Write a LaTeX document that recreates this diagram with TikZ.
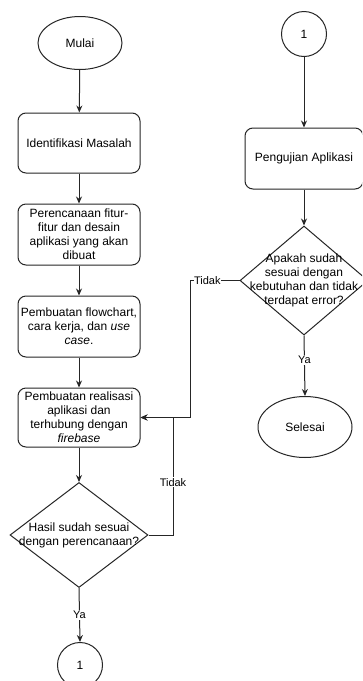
\documentclass[tikz,border=0pt]{standalone}
\usepackage{fontspec}
\setmainfont{Liberation Sans}
\usetikzlibrary{shapes.geometric,arrows.meta}

\begin{document}
\begin{tikzpicture}[x=1pt,y=-1pt,
  font=\fontsize{12}{14}\selectfont,
  line/.style={draw=black!85, line width=1pt},
  flow/.style={line, -{Stealth[length=7pt,width=6pt]}},
  procbox/.style={draw=black!85, line width=1pt, rounded corners=8pt,
    minimum width=122pt, minimum height=60pt, inner sep=1pt, align=center},
  terminal/.style={ellipse, draw=black!85, line width=1pt, inner sep=0pt, align=center},
  connector/.style={circle, draw=black!85, line width=1pt, minimum size=45pt, inner sep=0pt},
  decision/.style={diamond, draw=black!85, line width=1pt, inner sep=0pt, aspect=1},
  edgelabel/.style={fill=white, inner sep=1pt, font=\fontsize{11}{13}\selectfont}
]
\clip (0,0) rectangle (362,681);
\fill[white] (0,0) rectangle (362,681);

% left column
\node[terminal, minimum width=84pt, minimum height=53pt] (start) at (80,43) {Mulai};
\node[procbox] (ident) at (79,143) {Identifikasi Masalah};
\node[procbox, minimum height=61pt] (plan) at (79,234.5)
  {Perencanaan fitur-\\fitur dan desain\\aplikasi yang akan\\dibuat};
\node[procbox, minimum height=61pt] (design) at (79,326.5)
  {Pembuatan flowchart,\\cara kerja, dan \textit{use}\\\textit{case}.};
\node[procbox, minimum height=59pt] (build) at (79,417.5)
  {Pembuatan realisasi\\aplikasi dan\\terhubung dengan\\\textit{firebase}};
\node[decision, minimum width=138pt, minimum height=105pt] (check) at (79,535) {};
\node[align=center] at (check.center) {Hasil sudah sesuai\\dengan perencanaan?};
\node[connector] (offA) at (80,665) {1};

% right column
\node[connector] (offB) at (304,34) {1};
\node[procbox, minimum width=118pt, minimum height=61pt] (test) at (304,158.5) {Pengujian Aplikasi};
\node[decision, minimum width=128pt, minimum height=109pt] (verify) at (304,280.5) {};
\node[align=center] at (verify.center) {Apakah sudah\\sesuai dengan\\kebutuhan dan tidak\\terdapat error?};
\node[terminal, minimum width=94pt, minimum height=61pt] (finish) at (305,427) {Selesai};

% helper points of the return loops
\coordinate (loopA) at (173,535);
\coordinate (loopB) at (190,280.5);

% main flow
\draw[flow] (start) -- (ident);
\draw[flow] (ident) -- (plan);
\draw[flow] (plan) -- (design);
\draw[flow] (design) -- (build);
\draw[flow] (build) -- (check);
\draw[flow] (check.south) -- node[edgelabel, pos=0.5] {Ya} (offA.north);

\draw[flow] (offB) -- (test);
\draw[flow] (test) -- (verify.north);
\draw[flow] (verify.south) -- node[edgelabel, pos=0.4] {Ya} (finish.north);

% return loops back to the build step
\draw[flow] (check.east) -- (loopA) -- node[edgelabel, pos=0.45] {Tidak} (loopA |- build.east) -- (build.east);
\draw[flow] (verify.west) -- node[edgelabel, pos=0.65, inner xsep=0.5pt] {Tidak} (loopB) -- (loopB |- build.east) -- (build.east);
\end{tikzpicture}
\end{document}
